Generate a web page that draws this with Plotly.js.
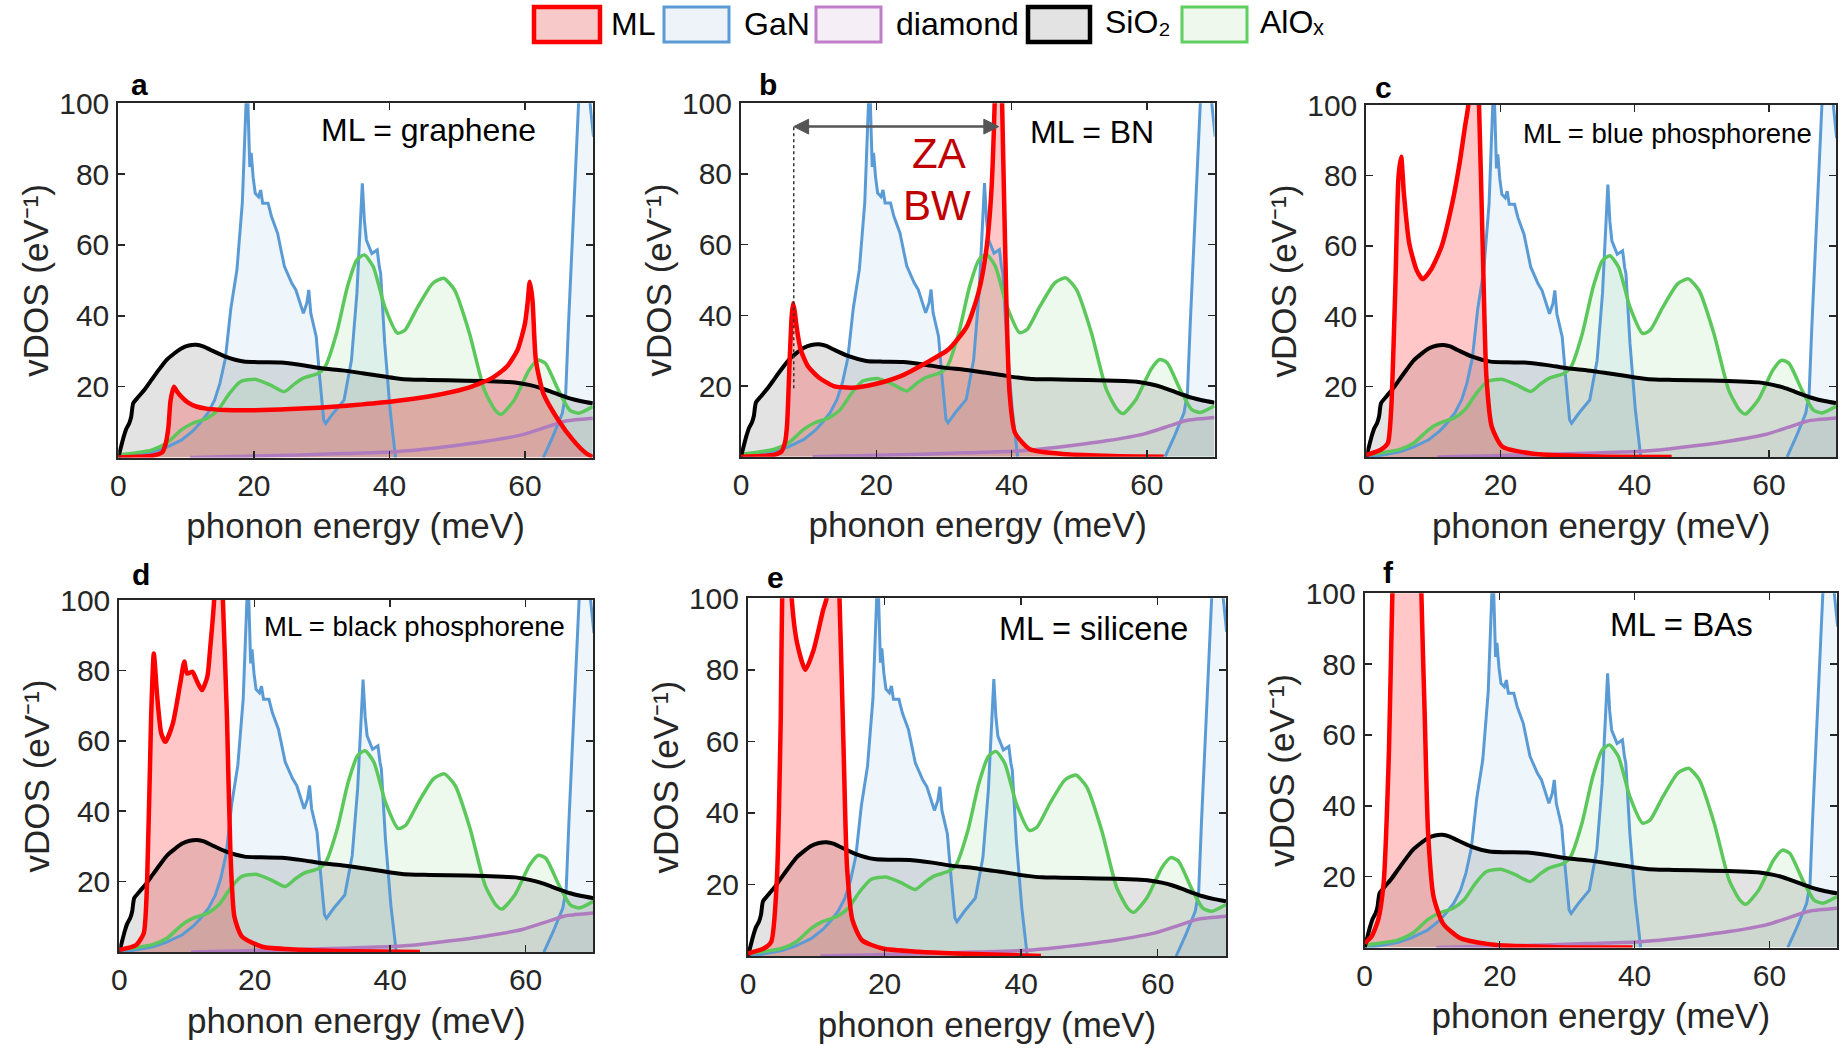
<!DOCTYPE html>
<html><head><meta charset="utf-8">
<script src="https://cdn.plot.ly/plotly-3.0.1.min.js"></script>
<style>html,body{margin:0;padding:0;background:#fff;} #chart{width:1843px;height:1053px;}</style>
</head><body><div id="chart"></div>
<script>
// ---------- shared substrate spectra (phonon energy in meV, vDOS in eV^-1) ----------
const ganE = [0,0.5,3,5,7,9.3,11,12,13.2,14.2,15,15.8,16.6,17.5,18.3,18.7,19.0,19.4,19.6,19.9,20.2,20.7,21.0,21.3,22.1,22.6,23.5,24.5,25.6,26.2,26.7,27.3,27.8,28.1,28.4,29.2,29.7,30.3,30.6,31.7,33.3,34.4,35.2,35.7,36.0,36.3,36.6,37.4,37.9,38.2,38.5,38.7,39.3,40.1,40.9,41.5,62.7,64.1,65.5,66.0,66.4,67.1,67.9,68.8,69.6,70.1];
const ganD = [0,0,0.8,1.5,2.8,4.9,7.5,9.6,12.5,16.2,21,28,42,53,72,93,108,82,86,79,74.6,73.6,75.5,71.8,71.8,68,63.3,54,49.2,47.3,44.5,40.7,43.5,47.3,40.7,34.1,22.8,10.6,9.6,12.5,16.2,27.5,46.4,67,77.4,67,61.4,57.6,58.1,58.6,53.9,52,32.2,13.4,0,null,0,5.9,12.5,18,37,65,100,125,100,90.6];

const diaE = [10.6,15,20,26.7,33,40.9,45,48.6,54,59.5,63.3,65.5,66.2,70];
const diaD = [0,0.2,0.4,0.7,1.1,1.6,2.3,3.1,4.5,6.4,8.7,10.1,10.4,11.1];

const sioE = [0,0.4,0.8,1.2,1.6,1.9,2.2,3.0,4.0,4.9,6.0,7.1,8.2,9.3,10.4,11.5,12.5,13.6,15.8,18.5,21,24,27,30,33,36,38.5,40.9,43,45.8,51.3,56.7,58.5,60.6,62.2,63.8,65.2,66.6,68.3,70];
const sioD = [0,3,5.9,8.2,9.6,11.5,15.3,17.2,19.5,21.9,24.8,27.5,29.3,30.8,31.6,31.8,31.4,30.4,28.5,27.1,26.9,26.8,26.1,25.2,24.6,23.8,23.1,22.4,22.0,21.9,21.7,21.4,21.2,20.5,19.7,18.6,17.6,16.7,15.9,15.3];

const aloE = [0,2.5,4.9,7.1,9.3,10.9,13.1,14.7,16.4,18,20.2,22.4,24.5,26,27.3,29.5,30.5,32.2,33.8,35.2,36.3,37.6,39.3,41.2,42.3,44.2,46.4,48,49.6,51.8,54,55.6,56.5,58.4,60.6,61.9,63,64.9,66.6,67.9,70];
const aloD = [0.7,1.3,2.1,4.0,7.8,9.6,11.1,13.4,18.1,21.4,22.1,20.5,18.6,20.8,22.4,23.8,25.6,35.1,48.2,55.8,57.2,53.9,42.6,35.1,36,42.6,49.2,50.6,47.3,35.1,19.1,13.4,12.2,16.2,24.7,27.5,26.6,19.1,13.4,12.5,14.4];

// ---------- monolayer (ML) spectra, one per panel ----------
const grapheneE = [0,3,5,6.5,7.0,7.4,7.7,8.2,8.7,9.3,10.3,11.5,13,15.8,21.3,27,32.2,36,40.4,45.8,51.3,55.1,57.3,58.9,60.0,60.4,60.7,61.1,61.6,62.7,64.9,67.1,69,70];
const grapheneD = [0,0.2,0.5,1.5,4,8.7,16,20,18.5,17.2,15.5,14.4,13.8,13.4,13.4,13.8,14.4,15,15.8,17.2,19.5,22.4,25.6,30.4,37.9,44,49.6,44.5,27.5,18.1,10.6,4.9,1.2,0.2];

const bnE = [0,3,5,6.0,6.5,6.8,7.2,7.5,7.7,7.95,8.2,8.8,9.9,11.5,13.7,16.4,19.7,23.6,27.4,30.7,33.4,35.1,36.2,37.0,37.5,38.0,38.6,39.2,39.7,40.5,42.7,48.2,55,62.5];
const bnD = [0,0.2,0.6,1.5,4,8.7,27.5,40,43.5,41,37,30.4,25.6,22.4,20,19.5,20.5,22.8,26.6,30.4,36.9,46.4,57.6,74.6,100,150,100,46.4,18.1,6.8,2.1,0.7,0.2,0];

const bluePE = [0,2.1,3.2,3.7,4.3,4.8,5.2,5.6,6.4,7.5,8.4,9.6,11.2,12.8,13.9,14.7,15.2,16.0,16.8,17.4,17.9,18.7,20.3,24.6,30,35.3,45.5];
const bluePD = [0.6,2,3.9,13.3,46.5,79.6,85.3,74.9,60.7,53.1,50.5,53.1,59.7,72,83.4,93.8,100,140,100,56,22.8,8.6,2.9,1,0.4,0.1,0];

const blackPE = [0,2.5,3.6,4.1,4.7,5.1,5.6,6.2,6.8,7.9,9.0,9.6,10.0,10.8,11.5,12.2,13.0,13.4,14.0,14.7,15.3,15.9,16.4,17.0,18.1,21.1,26,32,44.4];
const blackPD = [0.6,2,5.3,19.5,66.8,84.8,72.5,62.1,59.7,64.9,76.3,82.5,79.1,79.6,76.8,74.4,78.2,85.8,100,140,100,66.8,29,10,4.4,1.5,0.7,0.3,0];

const siliceneE = [0,2.3,3.4,4.2,4.8,5.0,5.7,6.4,7.2,8.4,9.6,11.0,11.5,12.5,13.4,14.0,14.5,15.3,16.7,19.7,25,30.5,42.9];
const siliceneD = [0.7,2.1,4,20.3,66.9,100,140,100,87.4,80,85.5,96.7,100,140,100,57.6,25,10,4.4,2.1,1.2,0.7,0];

const basE = [0,1,2,2.8,3.6,4.1,5.0,6.5,8.0,8.4,8.9,9.4,10.2,11.6,14.2,19.5,25,30.1,39.7];
const basD = [1.2,3.1,7.8,18.1,55.8,100,150,140,150,100,65.2,32.2,14.4,6.8,2.6,0.7,0.3,0,0];

// ---------- labels ----------
const panelLetters = ['a','b','c','d','e','f'];
const mlNames = ['graphene','BN','blue phosphorene','black phosphorene','silicene','BAs'];
const legendNames = ['ML','GaN','diamond','SiO\u2082','AlO\u2093'];
const xTickVals = [0,20,40,60];
const yTickVals = [20,40,60,80,100];
const xTitle = 'phonon energy (meV)';
const yTitle = 'vDOS (eV\u207B\u00B9)';
const zaLabel = ['ZA','BW'];
const zaRange = [7.8, 38.1];     // ZA bandwidth marker (meV)
const zaArrowLevel = 93.4;       // vDOS level of the marker arrow
const zaDropLevel = 19.4;        // lower end of the dotted guide

// ---------- styling / layout ----------
const mlSets = [[grapheneE,grapheneD],[bnE,bnD],[bluePE,bluePD],[blackPE,blackPD],[siliceneE,siliceneD],[basE,basD]];
const FONT = 'Liberation Sans, Arial, Helvetica, sans-serif';
const W = 1843, H = 1053;
const st = {
  ml:  {c:'#ff0000', f:'rgba(255,0,0,0.22)', w:4.5},
  gan: {c:'#5b9bd5', f:'rgba(91,155,213,0.10)', w:3},
  dia: {c:'#b07cc0', f:'rgba(176,124,198,0.07)', w:3.5},
  sio: {c:'#000000', f:'rgba(0,0,0,0.11)', w:4},
  alo: {c:'#5cc85c', f:'rgba(92,200,92,0.10)', w:3.5}
};
// plot-area pixel boxes [left, right, top, bottom]
const boxes = [[118.3,592.8,103.3,457.5],[741,1214.5,103.3,456.7],[1366.3,1836,105,457],
               [119.3,593.3,600,952],[748,1226,598.3,956],[1364.7,1837,593.3,947.5]];
const px = v => v / W, py = v => 1 - v / H;

const traces = [];
const layout = {
  width: W, height: H, margin: {l:0, r:0, t:0, b:0},
  paper_bgcolor: '#fff', plot_bgcolor: '#fff', showlegend: false,
  font: {family: FONT, color: '#262626', size: 30},
  shapes: [], annotations: []
};

function axSfx(k) { return k ? String(k + 1) : ''; }
function addFill(k, x, y, s, shape) {
  traces.push({x: x, y: y, type: 'scatter', mode: 'lines', fill: 'tozeroy', fillcolor: s.f,
    line: {color: 'rgba(0,0,0,0)', width: 0, shape: shape, smoothing: 0.6},
    xaxis: 'x' + axSfx(k), yaxis: 'y' + axSfx(k), hoverinfo: 'skip'});
}
function addLine(k, x, y, s, shape) {
  traces.push({x: x, y: y, type: 'scatter', mode: 'lines',
    line: {color: s.c, width: s.w, shape: shape, smoothing: 0.6},
    xaxis: 'x' + axSfx(k), yaxis: 'y' + axSfx(k), hoverinfo: 'skip'});
}

for (let i = 0; i < 6; i++) {
  const series = [[ganE, ganD, st.gan, 'linear'], [diaE, diaD, st.dia, 'spline'], [aloE, aloD, st.alo, 'spline'],
                  [sioE, sioD, st.sio, 'spline'], [mlSets[i][0], mlSets[i][1], st.ml, 'spline']];
  series.forEach(s => addFill(i, s[0], s[1], s[2], s[3]));
  series.forEach(s => addLine(i, s[0], s[1], s[2], s[3]));
  const b = boxes[i];
  const sfx = axSfx(i);
  const common = {showline: true, linecolor: '#262626', linewidth: 2, mirror: 'ticks', ticks: 'inside',
    ticklen: 7, tickwidth: 1.5, tickcolor: '#262626', showgrid: false, zeroline: false,
    tickfont: {family: FONT, size: 30, color: '#262626'}};
  layout['xaxis' + sfx] = Object.assign({}, common, {domain: [px(b[0]), px(b[1])], range: [0, 70],
    tickvals: xTickVals, anchor: 'y' + sfx, ticklabelstandoff: 0,
    title: {text: xTitle, font: {family: FONT, size: 35, color: '#262626'}, standoff: 13}});
  layout['yaxis' + sfx] = Object.assign({}, common, {domain: [py(b[3]), py(b[2])], range: [0, 100],
    tickvals: yTickVals, anchor: 'x' + sfx, ticklabelstandoff: 1,
    title: {text: yTitle, font: {family: FONT, size: 35, color: '#262626'}, standoff: 0}});
}

// panel letters
const letterPos = [[139,84.5],[768,84.5],[1383,87.5],[141,574.5],[775,577.5],[1388,572.5]];
panelLetters.forEach((t, i) => layout.annotations.push({text: '<b>' + t + '</b>', xref: 'paper', yref: 'paper',
  x: px(letterPos[i][0]), y: py(letterPos[i][1]), xanchor: 'center', yanchor: 'middle', showarrow: false,
  font: {family: FONT, size: 30, color: '#000'}}));

// ML name labels
const mlPos = [[428.5,130,32],[1092,132,32],[1667,133.6,27.5],[414.5,626.7,27.5],[1093,628.8,32.5],[1681,624.5,33]];
mlNames.forEach((t, i) => layout.annotations.push({text: 'ML = ' + t, xref: 'paper', yref: 'paper',
  x: px(mlPos[i][0]), y: py(mlPos[i][1]), xanchor: 'center', yanchor: 'middle', showarrow: false,
  font: {family: FONT, size: mlPos[i][2], color: '#000'}}));

// ZA bandwidth marker (panel b): double arrow drawn with shapes
const hx = 2.2, hy = 2.1; // arrowhead size in axis units (~15 px long, ~15 px wide)
const aY = zaArrowLevel;
layout.shapes.push({type: 'line', xref: 'x2', yref: 'y2', x0: zaRange[0] + hx * 0.8, x1: zaRange[1] - hx * 0.8, y0: aY, y1: aY,
  line: {color: '#555555', width: 2.5}});
layout.shapes.push({type: 'path', xref: 'x2', yref: 'y2',
  path: `M ${zaRange[0]} ${aY} L ${zaRange[0] + hx} ${aY + hy} L ${zaRange[0] + hx} ${aY - hy} Z`,
  fillcolor: '#555555', line: {color: '#555555', width: 1}});
layout.shapes.push({type: 'path', xref: 'x2', yref: 'y2',
  path: `M ${zaRange[1]} ${aY} L ${zaRange[1] - hx} ${aY + hy} L ${zaRange[1] - hx} ${aY - hy} Z`,
  fillcolor: '#555555', line: {color: '#555555', width: 1}});
layout.shapes.push({type: 'line', xref: 'x2', yref: 'y2', x0: zaRange[0], x1: zaRange[0], y0: zaDropLevel, y1: aY,
  line: {color: '#333', width: 1.5, dash: 'dot'}});
layout.annotations.push({text: zaLabel[0], xref: 'x2', yref: 'y2', x: 29.3, y: 85.9, showarrow: false,
  xanchor: 'center', yanchor: 'middle', font: {family: FONT, size: 42, color: '#c00000'}});
layout.annotations.push({text: zaLabel[1], xref: 'x2', yref: 'y2', x: 29.0, y: 71.2, showarrow: false,
  xanchor: 'center', yanchor: 'middle', font: {family: FONT, size: 42, color: '#c00000'}});

// custom legend
const legBoxes = [[534,600],[664,729],[816,881],[1028,1090],[1182,1247]];
const legText = [609,742,894,1103,1258];
const legStyles = [[st.ml.c,'#f8c9c9',4.5],[st.gan.c,'#eef3fa',3],['#c07ec9','#f6eef6',3],['#000','#e3e3e3',4.5],['#5fcf5f','#eef8ec',3]];
legendNames.forEach((t, i) => {
  layout.shapes.push({type: 'rect', xref: 'paper', yref: 'paper', x0: px(legBoxes[i][0]), x1: px(legBoxes[i][1]),
    y0: py(42), y1: py(7), fillcolor: legStyles[i][1], line: {color: legStyles[i][0], width: legStyles[i][2]}});
  const sub = i >= 3;
  layout.annotations.push({text: t, xref: 'paper', yref: 'paper', x: px(legText[i]), y: py(sub ? 22 : 24),
    xanchor: 'left', yanchor: 'middle', showarrow: false, font: {family: FONT, size: 32, color: '#000'}});
});

Plotly.newPlot('chart', traces, layout, {displayModeBar: false, staticPlot: true});
</script></body></html>
